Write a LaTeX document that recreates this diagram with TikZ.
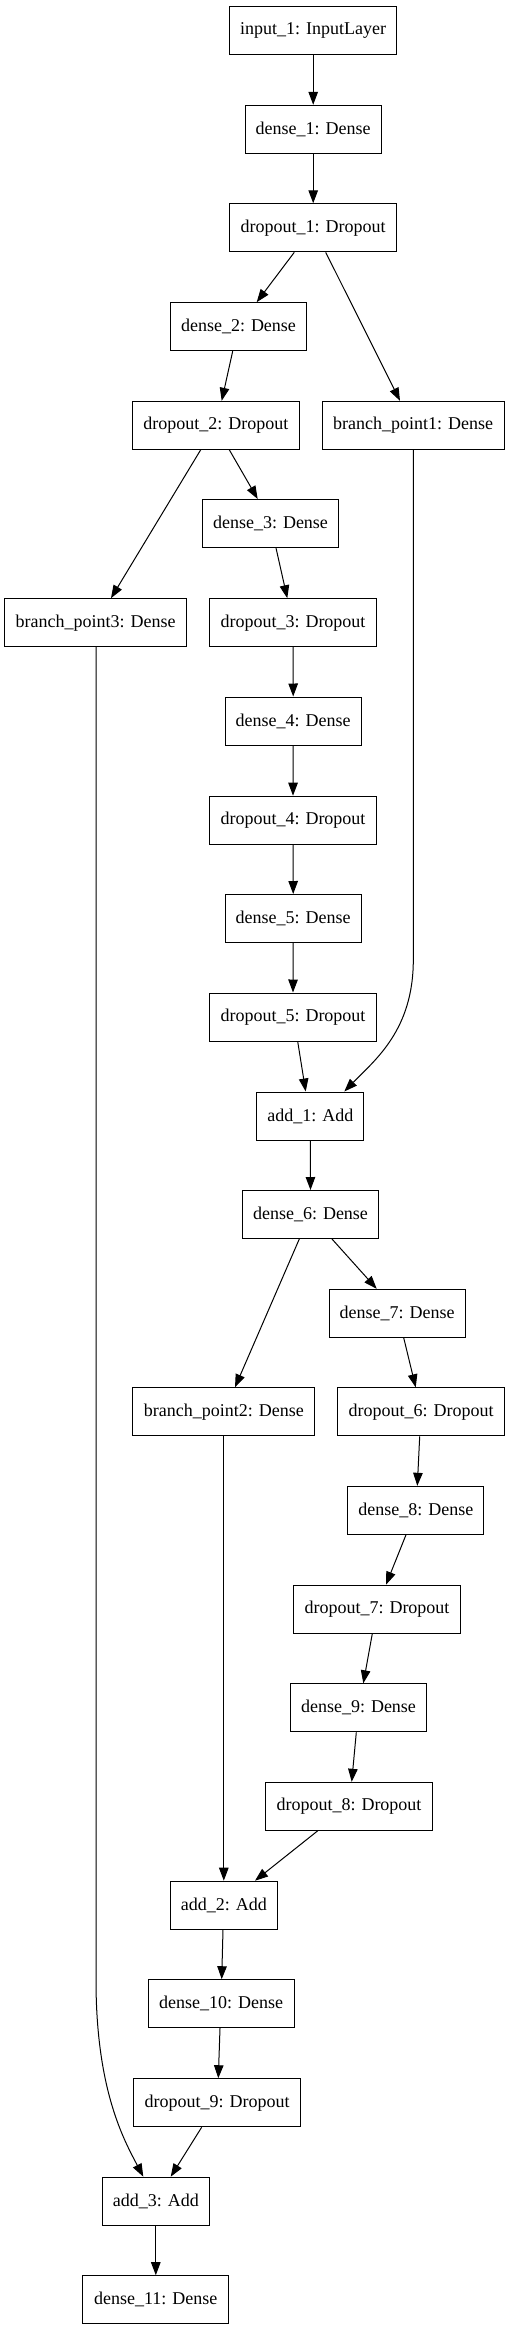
\documentclass[tikz,border=0pt]{standalone}
\usepackage{fontspec}
\setmainfont{Liberation Serif}
\usetikzlibrary{arrows.meta}
\begin{document}
\begin{tikzpicture}[x=1pt,y=-1pt,
  layer/.style={draw=black, line width=1pt, minimum height=48pt, inner sep=0pt, font=\fontsize{18}{20}\selectfont},
  wD/.style={minimum width=136.3pt},
  wR/.style={minimum width=167pt},
  wB/.style={minimum width=182pt},
  wA/.style={minimum width=107.3pt},
  wE/.style={minimum width=145.7pt},
  conn/.style={-{Triangle[length=13pt,width=9.5pt]}, line width=1pt}]
\useasboundingbox (0,0) rectangle (509,2331);
\node[layer, wR] (in1) at (313.2,30.3) {input\_1: InputLayer};
\node[layer, wD] (d1) at (313.2,129.3) {dense\_1: Dense};
\node[layer, wR] (dr1) at (313.2,227.8) {dropout\_1: Dropout};
\node[layer, wD] (d2) at (238.5,326.7) {dense\_2: Dense};
\node[layer, wR] (dr2) at (215.8,425.3) {dropout\_2: Dropout};
\node[layer, wB] (bp1) at (413.2,425.3) {branch\_point1: Dense};
\node[layer, wD] (d3) at (270.5,523.5) {dense\_3: Dense};
\node[layer, wB] (bp3) at (95.7,622.7) {branch\_point3: Dense};
\node[layer, wR] (dr3) at (293,622.7) {dropout\_3: Dropout};
\node[layer, wD] (d4) at (293.2,721) {dense\_4: Dense};
\node[layer, wR] (dr4) at (293,820.2) {dropout\_4: Dropout};
\node[layer, wD] (d5) at (293.2,918.5) {dense\_5: Dense};
\node[layer, wR] (dr5) at (293,1017) {dropout\_5: Dropout};
\node[layer, wA] (add1) at (310.3,1116) {add\_1: Add};
\node[layer, wD] (d6) at (310.5,1214.5) {dense\_6: Dense};
\node[layer, wD] (d7) at (397.2,1313.3) {dense\_7: Dense};
\node[layer, wB] (bp2) at (223.8,1411.8) {branch\_point2: Dense};
\node[layer, wR] (dr6) at (421.2,1411.8) {dropout\_6: Dropout};
\node[layer, wD] (d8) at (415.8,1510.3) {dense\_8: Dense};
\node[layer, wR] (dr7) at (377,1609.2) {dropout\_7: Dropout};
\node[layer, wD] (d9) at (358.5,1707.8) {dense\_9: Dense};
\node[layer, wR] (dr8) at (349,1806.3) {dropout\_8: Dropout};
\node[layer, wA] (add2) at (223.8,1905.2) {add\_2: Add};
\node[layer, wE] (d10) at (221.2,2003.7) {dense\_10: Dense};
\node[layer, wR] (dr9) at (217.2,2102.7) {dropout\_9: Dropout};
\node[layer, wA] (add3) at (155.8,2201.2) {add\_3: Add};
\node[layer, wE] (d11) at (155.8,2299.7) {dense\_11: Dense};

\draw[conn] (in1.south) -- (d1.north);
\draw[conn] (d1.south) -- (dr1.north);
\draw[conn] ([xshift=-18.9pt]dr1.south) -- ([xshift=18.2pt]d2.north);
\draw[conn] ([xshift=12.5pt]dr1.south) -- ([xshift=-13.2pt]bp1.north);
\draw[conn] ([xshift=-5.8pt]d2.south) -- ([xshift=5.9pt]dr2.north);
\draw[conn] ([xshift=-15.1pt]dr2.south) -- ([xshift=15.3pt]bp3.north);
\draw[conn] ([xshift=13.5pt]dr2.south) -- ([xshift=-12.8pt]d3.north);
\draw[conn] ([xshift=5.5pt]d3.south) -- ([xshift=-5.7pt]dr3.north);
\draw[conn] (dr3.south) -- (d4.north);
\draw[conn] (d4.south) -- (dr4.north);
\draw[conn] (dr4.south) -- (d5.north);
\draw[conn] (d5.south) -- (dr5.north);
\draw[conn] ([xshift=4.7pt]dr5.south) -- ([xshift=-4.6pt]add1.north);
\draw[conn] ([xshift=0.1pt]bp1.south) -- (413.3,960) .. controls (413.3,1030) and (375,1060) .. ([xshift=34pt]add1.north);
\draw[conn] (add1.south) -- (d6.north);
\draw[conn] ([xshift=-11.2pt]d6.south) -- ([xshift=11.2pt]bp2.north);
\draw[conn] ([xshift=21.5pt]d6.south) -- ([xshift=-20.5pt]d7.north);
\draw[conn] ([xshift=6.5pt]d7.south) -- ([xshift=-5.5pt]dr6.north);
\draw[conn] ([xshift=-1.5pt]dr6.south) -- ([xshift=1.5pt]d8.north);
\draw[conn] ([xshift=-9.8pt]d8.south) -- ([xshift=9pt]dr7.north);
\draw[conn] ([xshift=-4.7pt]dr7.south) -- ([xshift=4.8pt]d9.north);
\draw[conn] ([xshift=-2.2pt]d9.south) -- ([xshift=2.7pt]dr8.north);
\draw[conn] ([xshift=-31.3pt]dr8.south) -- ([xshift=31.2pt]add2.north);
\draw[conn] (bp2.south) -- (add2.north);
\draw[conn] ([xshift=-0.8pt]add2.south) -- ([xshift=0.5pt]d10.north);
\draw[conn] ([xshift=-1.2pt]d10.south) -- ([xshift=1.1pt]dr9.north);
\draw[conn] ([xshift=-15.5pt]dr9.south) -- ([xshift=14.9pt]add3.north);
\draw[conn] ([xshift=0.3pt]bp3.south) -- (96,1980) .. controls (96,2090) and (124,2140) .. ([xshift=-12.5pt]add3.north);
\draw[conn] (add3.south) -- (d11.north);
\end{tikzpicture}
\end{document}
